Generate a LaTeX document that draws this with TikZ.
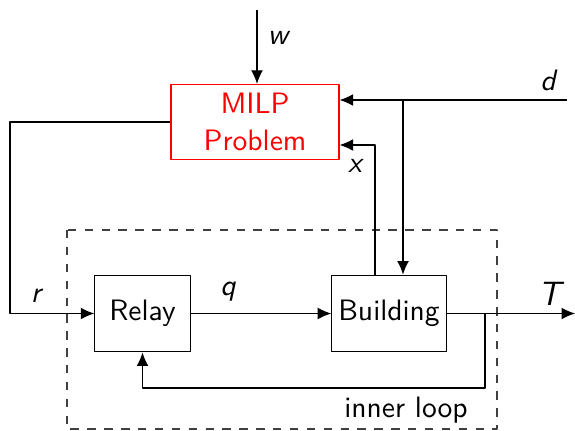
\documentclass[tikz,border=0pt]{standalone}
\usepackage{amsmath}
\usetikzlibrary{arrows.meta, positioning}

\begin{document}
\sffamily\fontsize{10.5}{13.2}\selectfont
\begin{tikzpicture}[x=0.0125cm, y=-0.0125cm, line join=round,
  >={Latex[length=4.8pt, width=4.2pt]},
  block/.style={draw, minimum width=1.19cm, minimum height=0.96cm, inner sep=1pt},
  sig/.style={font=\itshape}]
\useasboundingbox (0,0) rectangle (575,430);
% blocks
\node[block, draw=red, text=red, align=center, minimum width=2.1cm, minimum height=0.94cm] (milp) at (255,122) {MILP\\Problem};
\node[block] (relay) at (142.5,313.5) {Relay};
\node[block, minimum width=1.43cm] (bld) at (389,313.5) {Building};
% free ends and corners
\coordinate (wIn) at (257,10);
\coordinate (dIn) at (567,100);
\coordinate (dSplit) at (403,100);
\coordinate (xTurn) at (375,145);
\coordinate (rLeft) at (10,313.5);
\coordinate (tOut) at (575,313.5);
\coordinate (fb) at (485,313.5);
\coordinate (fbLow) at (485,388);
% inner loop
\draw[dashed, black!75] (67,230) rectangle (497,429);
\node at (406,410) {inner loop};
% connectors
\draw[->] (wIn) -- (wIn |- milp.north);
\draw[->] (dIn) -- (milp.east |- dIn);
\draw[->] (dSplit) -- (dSplit |- bld.north);
\draw[->] (xTurn |- bld.north) -- (xTurn) -- (milp.east |- xTurn);
\draw[->] (milp.west) -| (rLeft) -- (relay.west);
\draw[->] (relay) -- (bld);
\draw[->] (bld.east) -- (tOut);
\draw[->] (fb) -- (fbLow) -| (relay.south);
% signals
\node[sig] at (278,38) {w};
\node[sig] at (548,80) {d};
\node[sig] at (355,166) {x};
\node[sig] at (36,296) {r};
\node[sig] at (228,292) {q};
\node[sig, font=\itshape\large] at (550,294) {T};
\end{tikzpicture}
\end{document}
